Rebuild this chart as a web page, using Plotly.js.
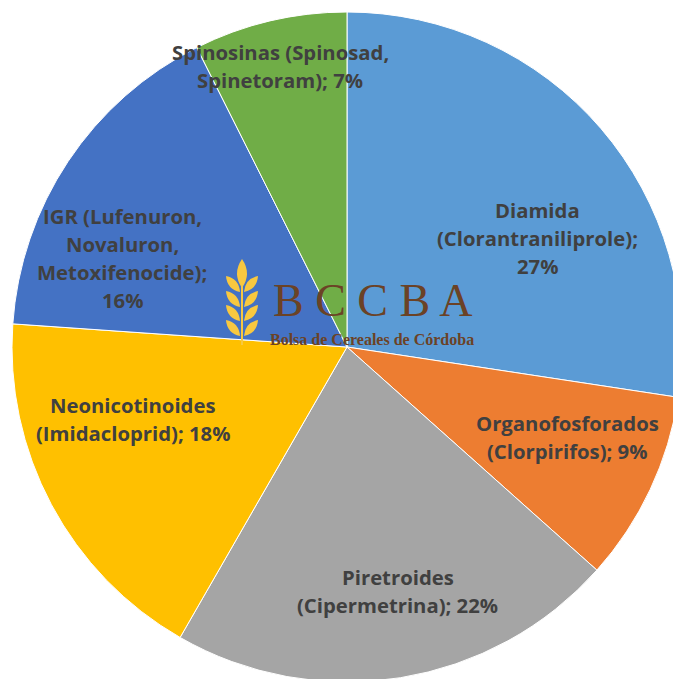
<!DOCTYPE html>
<html>
<head>
<meta charset="utf-8">
<script src="https://cdn.plot.ly/plotly-3.0.1.min.js"></script>
<style>
  html, body { margin: 0; padding: 0; overflow: hidden; background: #fff; }
  #chart { width: 694px; height: 694px; }
</style>
</head>
<body>
<div id="chart"></div>
<script>
"use strict";
// insecticide groups, clockwise from 12 o'clock
const categories = [
  "Diamida (Clorantraniliprole)",
  "Organofosforados (Clorpirifos)",
  "Piretroides (Cipermetrina)",
  "Neonicotinoides (Imidacloprid)",
  "IGR (Lufenuron, Novaluron, Metoxifenocide)",
  "Spinosinas (Spinosad, Spinetoram)"
];
const shares = [27.4, 9.2, 21.7, 17.8, 16.5, 7.4];
const labelLines = [
  ["Diamida", "(Clorantraniliprole);", "27%"],
  ["Organofosforados", "(Clorpirifos); 9%"],
  ["Piretroides", "(Cipermetrina); 22%"],
  ["Neonicotinoides", "(Imidacloprid); 18%"],
  ["IGR (Lufenuron,", "Novaluron,", "Metoxifenocide);", "16%"],
  ["Spinosinas (Spinosad,", "Spinetoram); 7%"]
];
const colors = ["#5B9BD5", "#ED7D31", "#A5A5A5", "#FFC000", "#4472C4", "#70AD47"];

// label block centres in pixels (page coords)
const labelPos = [[537, 238], [567, 437], [398, 591], [133, 419], [122, 258], [280, 66]];
const lineGap = 28;

const W = 694, M = 12, P = W - 2 * M;
const px = x => (x - M) / P;
const py = y => 1 - (y - M) / P;

const annotations = [];
labelLines.forEach((lines, i) => {
  const top = labelPos[i][1] - (lines.length - 1) * lineGap / 2;
  lines.forEach((line, j) => {
    annotations.push({
      xref: "paper", yref: "paper",
      x: px(labelPos[i][0]), y: py(top + j * lineGap),
      xanchor: "center", yanchor: "middle",
      text: line,
      showarrow: false,
      font: {family: "'Open Sans', sans-serif", size: 20.3, weight: 700, color: "#404040"}
    });
  });
});

// watermark text
annotations.push({
  xref: "paper", yref: "paper", x: px(372), y: py(300),
  xanchor: "center", yanchor: "middle", showarrow: false,
  text: "B C C B A",
  font: {family: "'Liberation Serif', serif", size: 46, color: "#6B4226"}
});
annotations.push({
  xref: "paper", yref: "paper", x: px(372), y: py(339),
  xanchor: "center", yanchor: "middle", showarrow: false,
  text: "Bolsa de Cereales de Córdoba",
  font: {family: "'Liberation Serif', serif", size: 16, weight: 700, color: "#6B4226"}
});

// wheat icon of the watermark
function leaf(x0, y0, x1, y1, w) {
  const mx = (x0 + x1) / 2, my = (y0 + y1) / 2;
  const dx = x1 - x0, dy = y1 - y0, len = Math.hypot(dx, dy);
  const nx = -dy / len * w, ny = dx / len * w;
  return `M${px(x0)},${py(y0)} Q${px(mx + nx)},${py(my + ny)} ${px(x1)},${py(y1)} ` +
         `Q${px(mx - nx)},${py(my - ny)} ${px(x0)},${py(y0)} Z`;
}
const wheat = [leaf(242, 288, 242, 259, 10)];
[284, 299, 313, 328].forEach(y => {
  wheat.push(leaf(240, y + 8, 226, y - 8, 8));
  wheat.push(leaf(244, y + 8, 258, y - 8, 8));
});
wheat.push(`M${px(241)},${py(286)} L${px(243)},${py(286)} L${px(243)},${py(345)} L${px(241)},${py(345)} Z`);
const shapes = wheat.map(p => ({
  type: "path", xref: "paper", yref: "paper", path: p,
  fillcolor: "#F8C840", line: {width: 0}
}));

Plotly.newPlot("chart", [{
  type: "pie",
  labels: categories,
  values: shares,
  sort: false,
  direction: "clockwise",
  rotation: 0,
  textinfo: "none",
  hoverinfo: "label+percent",
  marker: {colors: colors, line: {color: "#ffffff", width: 1}},
  domain: {x: [0, 1], y: [0, 1]}
}], {
  width: W, height: W,
  margin: {l: M, r: M, t: M, b: M},
  showlegend: false,
  paper_bgcolor: "#ffffff",
  annotations: annotations,
  shapes: shapes
}, {staticPlot: true});
</script>
</body>
</html>
